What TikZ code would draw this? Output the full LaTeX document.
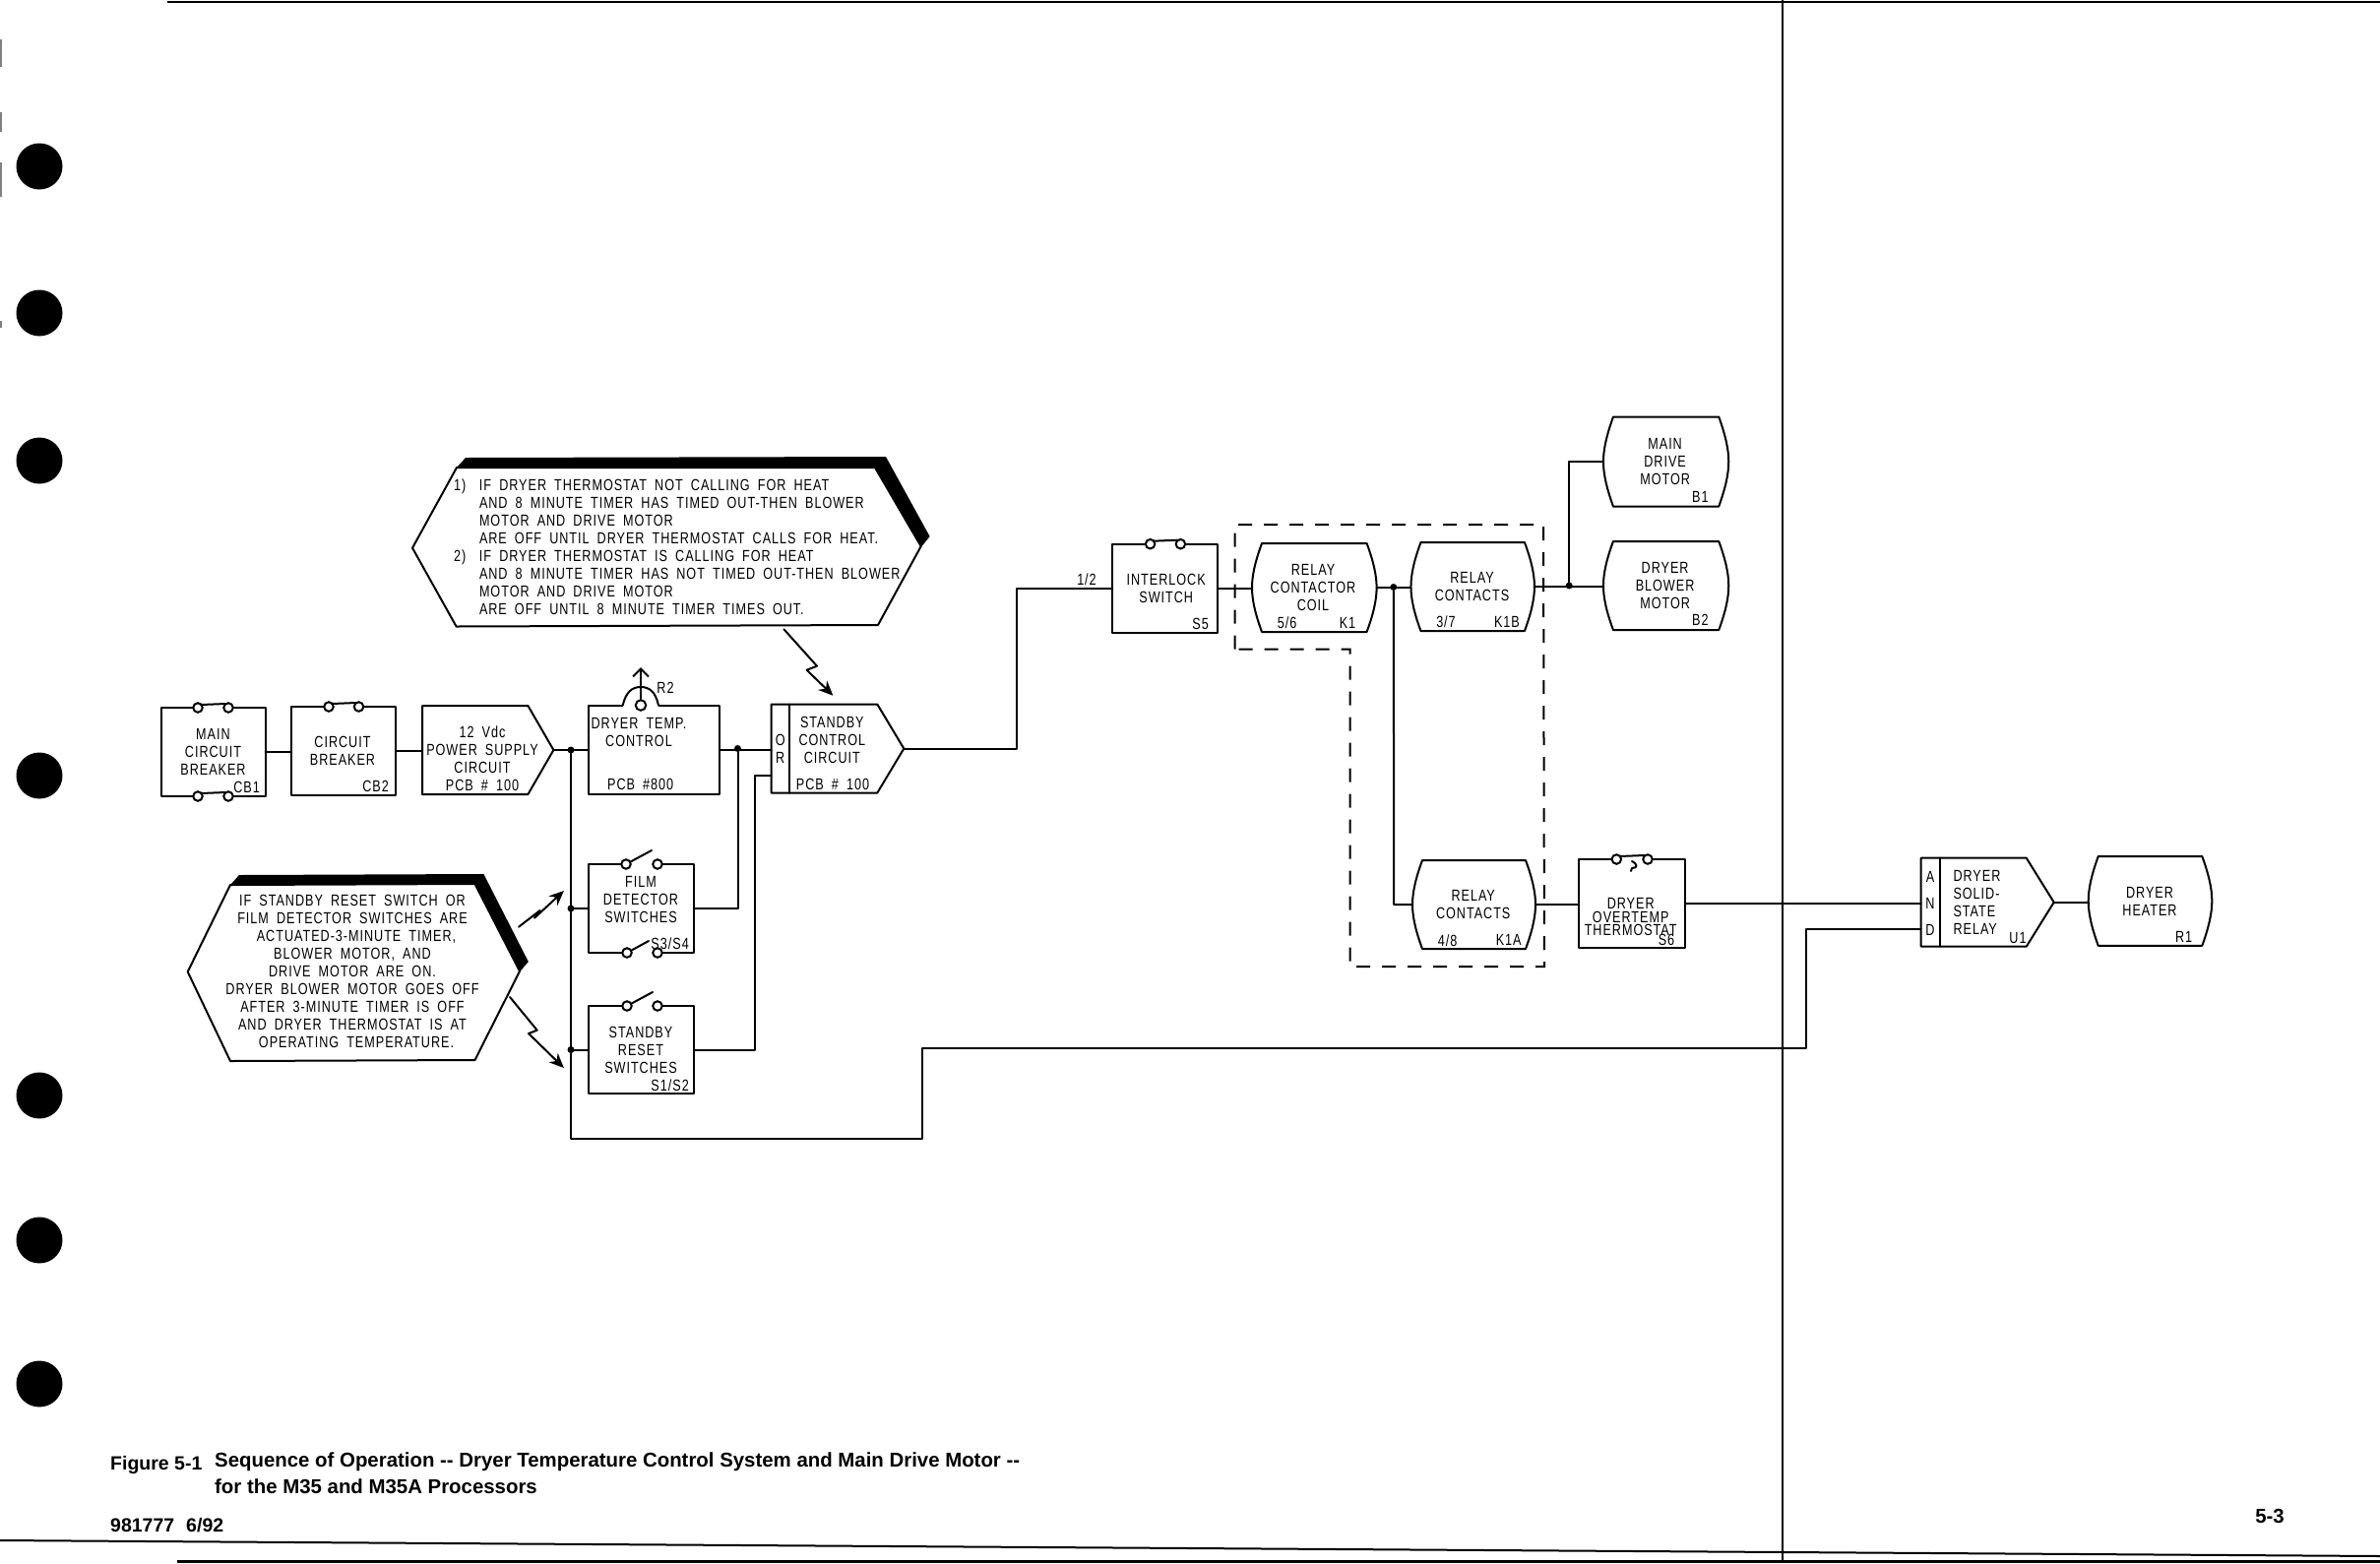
\documentclass[tikz,border=0pt]{standalone}
\usepackage{fontspec}
\usetikzlibrary{calc,arrows.meta}
\setmainfont{Liberation Sans}
\newfontfamily\lettering[FakeStretch=0.78,LetterSpace=6,WordSpace=1.8]{Liberation Sans}
\newfontfamily\captionfont{Liberation Sans Bold}
\tikzset{
  ln/.style={line width=2pt,line cap=round,line join=round},
  thinln/.style={line width=2pt},
  outline/.style={inner sep=0pt,outer sep=0pt,minimum width=#1},
  txt/.style={font=\lettering\fontsize{16.2}{18}\selectfont,align=center,inner sep=0pt,text=black},
  rtxt/.style={txt,anchor=east},
  dot/.style={circle,fill=black,inner sep=0pt,minimum size=7pt},
  term/.style={circle,draw=black,fill=white,line width=2pt,inner sep=0pt,minimum size=9.5pt},
  hole/.style={circle,fill=black,inner sep=0pt,minimum size=47pt},
  bolt/.style={ln,-{Stealth[length=15pt,width=13pt]}},
  dash box/.style={line width=2pt,dash pattern=on 14pt off 12pt},
  captext/.style={font=\captionfont\fontsize{20.4}{27}\selectfont,inner sep=0pt,anchor=west,align=left},
}
\newcommand\boxnode[5]{\node[draw=black,ln,outline=#4pt,minimum height=#5pt] (#1) at (#2,#3) {};}
\newcommand\barrelnode[5]{%
  \node[outline=#4pt,minimum height=#5pt] (#1) at (#2,#3) {};
  \draw[ln] ($(#1.north west)+(10,0)$) -- ($(#1.north east)+(-10,0)$)
    .. controls ($(#1.east)+(-3,-26)$) and ($(#1.east)+(0,-12)$) .. (#1.east)
    .. controls ($(#1.east)+(0,12)$) and ($(#1.east)+(-3,26)$) .. ($(#1.south east)+(-10,0)$)
    -- ($(#1.south west)+(10,0)$)
    .. controls ($(#1.west)+(3,26)$) and ($(#1.west)+(0,12)$) .. (#1.west)
    .. controls ($(#1.west)+(0,-12)$) and ($(#1.west)+(3,-26)$) .. cycle;}
% name, cx, cy, w, h, slope run
\newcommand\pentnode[6]{%
  \node[outline=#4pt,minimum height=#5pt] (#1) at (#2,#3) {};
  \draw[ln] (#1.north west) -- ($(#1.north east)+(-#6,0)$) -- (#1.east)
    -- ($(#1.south east)+(-#6,0)$) -- (#1.south west) -- cycle;}
% name, x1, x2, y, arm end
\newcommand\switchopen[5]{%
  \draw[white,line width=5pt] (#2,#4) -- (#3,#4);
  \node[term] (#1a) at (#2,#4) {};
  \node[term] (#1b) at (#3,#4) {};
  \draw[ln] (#1a) -- #5;}
\newcommand\switchclosed[4]{%
  \draw[white,line width=5pt] (#2,#4) -- (#3,#4);
  \node[term] (#1a) at (#2,#4) {};
  \node[term] (#1b) at (#3,#4) {};
  \draw[ln] ($(#1a)+(3,-3)$) -- ($(#1b)+(-3,-4)$);}
\begin{document}
\begin{tikzpicture}[x=1pt,y=-1pt]
\useasboundingbox (0,0) rectangle (2418,1588);
\fill[white] (0,0) rectangle (2418,1588);

% page furniture
\foreach \n/\yy in {a/169,b/318,c/468,d/788,e/1113,f/1260,g/1406}{\node[hole] (hole\n) at (40,\yy) {};}
\foreach \n/\ya/\yb in {a/40/68,b/114/134,c/165/200,d/326/333}{
  \coordinate (edge\n a) at (0.8,\ya); \coordinate (edge\n b) at (0.8,\yb);
  \draw[gray,line width=1.5pt] (edge\n a) -- (edge\n b);}
\coordinate (ptl) at (170,1.5); \coordinate (ptr) at (2418,1.5);
\draw[thinln] (ptl) -- (ptr);
\coordinate (pvt) at (1811,0); \coordinate (pvb) at (1811,1588);
\draw[line width=2pt] (pvt) -- (pvb);
\coordinate (pb1) at (0,1565); \coordinate (pb2) at (2418,1581);
\draw[thinln] (pb1) -- (pb2);
\coordinate (pb3) at (180,1586.5); \coordinate (pb4) at (2418,1586.5);
\draw[line width=3.5pt] (pb3) -- (pb4);
\node[captext,font=\captionfont\fontsize{19.5}{27}\selectfont] (figno) at (112,1488) {Figure 5-1};
\node[captext,anchor=north west] (figcap) at (218,1475) {Sequence of Operation -- Dryer Temperature Control System and Main Drive Motor --\\for the M35 and M35A Processors};
\node[captext,font=\captionfont\fontsize{19.5}{27}\selectfont] (docno) at (112,1550) {981777\hspace{12pt}6/92};
\node[captext,anchor=center] (pageno) at (2306,1540) {5-3};

% boxes
\boxnode{cb1}{216.5}{764}{106}{90}
\boxnode{cb2}{349}{763}{106}{90}
\pentnode{ps}{495.7}{762}{133.4}{90}{26}
\boxnode{dt}{664.3}{761.5}{133}{90}
\pentnode{or}{851}{760.5}{134.6}{90}{27}
\coordinate (ortop) at (801.7,715.5); \coordinate (orbot) at (801.7,805.5);
\draw[ln] (ortop) -- (orbot);
\boxnode{fd}{651.5}{923}{107}{90}
\boxnode{sr}{651.5}{1066.5}{107}{89}
\boxnode{il}{1183.7}{597.5}{106.5}{90}
\barrelnode{coil}{1335.3}{597}{126.6}{90}
\barrelnode{kb}{1496.2}{596}{125.5}{90}
\barrelnode{ka}{1497.5}{919}{125}{90}
\boxnode{ot}{1657.8}{918}{107.7}{90}
\barrelnode{bone}{1692.6}{469}{127.3}{91}
\barrelnode{btwo}{1692.6}{595}{127.3}{90}
\pentnode{andg}{2019.2}{916.7}{135}{90}{28}
\coordinate (andtop) at (1970.7,871.7); \coordinate (andbot) at (1970.7,961.7);
\draw[ln] (andtop) -- (andbot);
\barrelnode{heat}{2184.5}{915.4}{125.6}{90.7}

% switches
\switchclosed{swa}{201}{232}{719}
\switchclosed{swb}{201}{232}{809}
\switchclosed{swc}{334}{364.5}{718}
\switchopen{swd}{636}{668}{878}{(662,864)}
\switchopen{swe}{637}{668}{968}{(659,956)}
\switchopen{swf}{637}{668}{1022}{(663,1008)}
\switchclosed{swg}{1168.6}{1199.4}{552.7}
\switchclosed{swh}{1642.3}{1674}{873}
\coordinate (sqa) at (1658,875); \coordinate (sqb) at (1657,885);
\draw[ln] (sqa) .. controls (1664,878) and (1664,882) .. (1658,882) -- (sqb);

% R2 adjuster
\coordinate (bumpl) at (632.7,716.5); \coordinate (bumpr) at (669,716.5);
\draw[white,line width=4pt] (bumpl) -- (bumpr);
\draw[ln] (bumpl) .. controls (636,703) and (642,698) .. (651,698) .. controls (660,698) and (666,703) .. (bumpr);
\node[term,minimum size=10.5pt] (rtwo) at (651,716.5) {};
\coordinate (rtip) at (651,678);
\draw[ln,-{Straight Barb[length=8pt,width=16pt]}] (rtwo) -- (rtip);

% junctions
\node[dot] (ja) at (580,762) {};
\node[dot] (jb) at (580,923) {};
\node[dot] (jc) at (580,1066.5) {};
\node[dot] (jd) at (749.5,760.5) {};
\node[dot] (je) at (1415.8,596.5) {};
\node[dot] (jf) at (1594.2,595) {};

% connectors
\draw[ln] (cb1.east) -- (cb1.east -| cb2.west);
\draw[ln] (cb2.east) -- (cb2.east -| ps.west);
\draw[ln] (ps.east) -- (ps.east -| dt.west);
\draw[ln] (dt.east) -- (dt.east -| or.west);
\coordinate (busb) at (580,1157);
\coordinate (busc) at (937,1157);
\coordinate (busd) at (937,1065);
\coordinate (buse) at (1835,1065);
\coordinate (busf) at (1835,944);
\coordinate (andtwo) at (1951.7,944);
\draw[ln] (ja) -- (busb) -- (busc) -- (busd) -- (buse) -- (busf) -- (andtwo);
\draw[ln] (jb) -- (jb -| fd.west);
\draw[ln] (jc) -- (jc -| sr.west);
\draw[ln] (jd) |- (fd.east);
\coordinate (orb) at (766.5,787.7);
\coordinate (orc) at (783.7,787.7);
\draw[ln] (sr.east) -| (orb) -- (orc);
\coordinate (bend) at (1033,597.5);
\draw[ln] (or.east) -| (bend) -- (il.west);
\draw[ln] (il.east) -- (il.east -| coil.west);
\draw[ln] (coil.east) -- (coil.east -| kb.west);
\coordinate (kaleft) at (1416.2,919);
\draw[ln] (je) -- (kaleft) -- (ka.west);
\draw[ln] (kb.east) -- (kb.east -| btwo.west);
\coordinate (jtop) at (1594.2,469);
\draw[ln] (jf) -- (jtop) -- (bone.west);
\draw[ln] (ka.east) -- (ka.east -| ot.west);
\draw[ln] (ot.east) -- (ot.east -| andg.west);
\draw[ln] (andg.east) -- (andg.east -| heat.west);

% dashed enclosure
\coordinate (da) at (1371.5,982); \coordinate (db) at (1371.5,659.5);
\coordinate (dc) at (1254.5,659.5); \coordinate (dd) at (1254.5,533);
\coordinate (de) at (1568,533); \coordinate (df) at (1569,982);
\draw[dash box] (dc) -- (dd) -- (de) -- (df) -- (da) -- (db) -- (dc);

% callout 1
\coordinate (ca) at (419,556.7); \coordinate (cb) at (464,475); \coordinate (cc) at (889,475);
\coordinate (cd) at (935.7,555); \coordinate (ce) at (892,635); \coordinate (cf) at (463.6,636.5);
\fill[black] (473,465) -- (900,464) -- (944.6,545) -- (935.7,556) -- (889,475) -- (464,475) -- cycle;
\draw[ln] (ca) -- (cb) -- (cc) -- (cd) -- (ce) -- (cf) -- cycle;
\node[txt,anchor=west,align=left] (noteone) at (461,555.7) {%
\makebox[25.8pt][l]{1)}IF DRYER THERMOSTAT NOT CALLING FOR HEAT\\
\hspace*{25.8pt}AND 8 MINUTE TIMER HAS TIMED OUT-THEN BLOWER\\
\hspace*{25.8pt}MOTOR AND DRIVE MOTOR\\
\hspace*{25.8pt}ARE OFF UNTIL DRYER THERMOSTAT CALLS FOR HEAT.\\
\makebox[25.8pt][l]{2)}IF DRYER THERMOSTAT IS CALLING FOR HEAT\\
\hspace*{25.8pt}AND 8 MINUTE TIMER HAS NOT TIMED OUT-THEN BLOWER\\
\hspace*{25.8pt}MOTOR AND DRIVE MOTOR\\
\hspace*{25.8pt}ARE OFF UNTIL 8 MINUTE TIMER TIMES OUT.};
\coordinate (boltas) at (796.4,639.3); \coordinate (boltat) at (846.4,706.7);
\draw[bolt] (boltas) -- (830,676.7) -- (819.6,680.7) -- (boltat);

% callout 2
\coordinate (na) at (190.7,987.3); \coordinate (nb) at (234,899); \coordinate (nc) at (482.5,898);
\coordinate (nd) at (528,986.7); \coordinate (ne) at (482.5,1077); \coordinate (nf) at (234,1078);
\fill[black] (243,889) -- (491.4,888) -- (536.8,977) -- (528,987.5) -- (482.5,898) -- (234,899) -- cycle;
\draw[ln] (na) -- (nb) -- (nc) -- (nd) -- (ne) -- (nf) -- cycle;
\node[txt] (notetwo) at (358,987) {%
IF STANDBY RESET SWITCH OR\\
FILM DETECTOR SWITCHES ARE\\
\hspace*{8pt}ACTUATED-3-MINUTE TIMER,\\
BLOWER MOTOR, AND\\
DRIVE MOTOR ARE ON.\\
DRYER BLOWER MOTOR GOES OFF\\
AFTER 3-MINUTE TIMER IS OFF\\
AND DRYER THERMOSTAT IS AT\\
\hspace*{8pt}OPERATING TEMPERATURE.};
\coordinate (boltbs) at (527,941.7); \coordinate (boltbt) at (572.9,905);
\draw[bolt] (boltbs) -- (548.6,925) -- (543,932.7) -- (boltbt);
\coordinate (boltcs) at (518,1013); \coordinate (boltct) at (572.9,1085);
\draw[bolt] (boltcs) -- (545.7,1046.7) -- (537,1050) -- (boltct);

% text
\node[txt] (tcba) at (216.5,764) {MAIN\\CIRCUIT\\BREAKER};
\node[rtxt] (tcbb) at (264,800) {CB1};
\node[txt] (tcbc) at (348,763) {CIRCUIT\\BREAKER};
\node[rtxt] (tcbd) at (395,799) {CB2};
\node[txt] (tps) at (490,771) {12 Vdc\\POWER SUPPLY\\CIRCUIT\\PCB \# 100};
\node[txt] (trtwo) at (676,699) {R2};
\node[txt] (tdt) at (649,743.7) {DRYER TEMP.\\CONTROL};
\node[txt] (tdtp) at (650.7,797) {PCB \#800};
\node[txt] (tor) at (792.7,761) {O\\R};
\node[txt] (tsc) at (845.3,751.7) {STANDBY\\CONTROL\\CIRCUIT};
\node[txt] (tscp) at (846,796.7) {PCB \# 100};
\node[txt] (tfd) at (651,914.3) {FILM\\DETECTOR\\SWITCHES};
\node[rtxt] (tfdl) at (700,959) {S3/S4};
\node[txt] (tsr) at (651,1066.7) {STANDBY\\RESET\\SWITCHES};
\node[rtxt] (tsrl) at (700,1103) {S1/S2};
\node[txt] (tonetwo) at (1104,589) {1/2};
\node[txt] (til) at (1184.7,597.8) {INTERLOCK\\SWITCH};
\node[rtxt] (tils) at (1228,634) {S5};
\node[txt] (tcoil) at (1334,597) {RELAY\\CONTACTOR\\COIL};
\node[txt] (tcoila) at (1307.7,632.7) {5/6};
\node[txt] (tcoilb) at (1369,632.7) {K1};
\node[txt] (tkb) at (1495.5,595.5) {RELAY\\CONTACTS};
\node[txt] (tkba) at (1469,631.7) {3/7};
\node[txt] (tkbb) at (1531,631.7) {K1B};
\node[txt] (tka) at (1496.7,918.8) {RELAY\\CONTACTS};
\node[txt] (tkaa) at (1470.7,955.3) {4/8};
\node[txt] (tkab) at (1532.7,955.3) {K1A};
\node[txt,font=\lettering\fontsize{16.2}{13.5}\selectfont] (tot) at (1656.7,931.5) {DRYER\\OVERTEMP\\THERMOSTAT};
\node[txt] (tots) at (1693,955) {S6};
\node[txt] (tbo) at (1691.6,469.2) {MAIN\\DRIVE\\MOTOR};
\node[txt] (tbol) at (1727.4,505) {B1};
\node[txt] (tbt) at (1691.6,594.7) {DRYER\\BLOWER\\MOTOR};
\node[txt] (tbtl) at (1727.4,630) {B2};
\node[txt] (tand) at (1961,917.5) {A\\[9pt]N\\[9pt]D};
\node[txt,anchor=west,align=left] (tssr) at (1984.3,917) {DRYER\\SOLID-\\STATE\\RELAY};
\node[txt] (tssru) at (2050,952.7) {U1};
\node[txt] (thr) at (2184,915.7) {DRYER\\HEATER};
\node[txt] (thrl) at (2218.7,951.7) {R1};
\end{tikzpicture}
\end{document}
